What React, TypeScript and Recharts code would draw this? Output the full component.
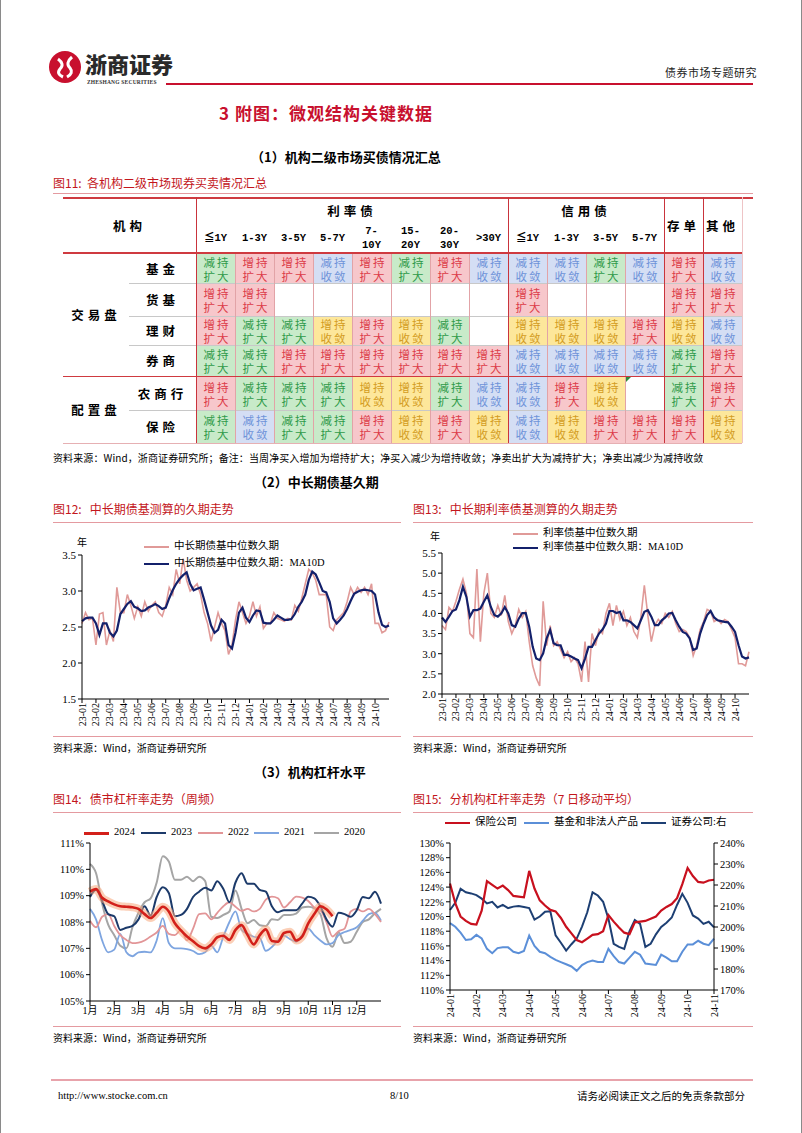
import React from "react";
import { LineChart, Line, XAxis, YAxis } from "recharts";

const SERIF = "'Liberation Serif', 'Noto Sans CJK SC', serif";
const CJK = "'Noto Sans CJK SC', 'Liberation Serif', sans-serif";
const RED_T = "#c3161c";
const RULE = "#e49aa0";

// ---------- 图11 table ----------
const rateTenors = ["≦1Y", "1-3Y", "3-5Y", "5-7Y", "7-\n10Y", "15-\n20Y", "20-\n30Y", ">30Y"];
const creditTenors = ["≦1Y", "1-3Y", "3-5Y", "5-7Y"];
const rowLabels = ["基金", "货基", "理财", "券商", "农商行", "保险"];
const groupLabels = ["交易盘", "配置盘"];
// A 增持扩大, B 减持扩大, C 减持收敛, D 增持收敛
const signals = [
  ["B", "A", "A", "C", "A", "B", "A", "C", "C", "C", "B", "C", "A", "C"],
  ["A", "A", "", "", "", "", "", "", "A", "", "", "", "A", "A"],
  ["A", "B", "B", "D", "A", "D", "B", "", "D", "D", "D", "A", "D", "C"],
  ["B", "B", "A", "A", "A", "A", "A", "A", "C", "C", "C", "C", "B", "A"],
  ["A", "B", "B", "B", "D", "D", "B", "C", "C", "A", "D", "", "B", "A"],
  ["B", "C", "B", "B", "A", "D", "A", "D", "C", "D", "A", "A", "A", "D"],
];

// ---------- 图12 / 图13 (4 obs per month, 23-01 .. 24-10) ----------
const durMonths = ["23-01", "23-02", "23-03", "23-04", "23-05", "23-06", "23-07", "23-08", "23-09", "23-10", "23-11", "23-12",
  "24-01", "24-02", "24-03", "24-04", "24-05", "24-06", "24-07", "24-08", "24-09", "24-10"];
const fundDurRaw = [2.55, 2.70, 2.60, 2.62, 2.25, 2.68, 2.70, 2.25, 2.45, 2.30,
  3.05, 2.70, 2.70, 2.95, 2.80, 2.62, 2.78, 2.65, 2.85, 2.72,
  2.80, 2.85, 2.70, 2.65, 2.80, 3.05, 2.95, 3.30, 3.10, 3.45,
  3.15, 3.00, 3.05, 3.10, 2.95, 2.70, 2.55, 2.30, 2.50, 2.70,
  2.55, 2.45, 2.12, 2.25, 2.60, 2.85, 2.70, 2.55, 2.65, 2.85,
  2.65, 2.78, 2.48, 2.55, 2.55, 2.70, 2.62, 2.60, 2.58, 2.62,
  2.60, 2.80, 2.72, 2.90, 3.10, 3.30, 3.25, 3.15, 2.95, 2.95,
  2.95, 2.50, 2.45, 2.60, 2.65, 2.70, 2.85, 3.05, 2.95, 3.05,
  2.98, 3.05, 2.95, 3.10, 2.55, 2.55, 2.42, 2.45, 2.57];
const fundDurMA = [2.58, 2.62, 2.63, 2.63, 2.55, 2.39, 2.55, 2.55, 2.42, 2.37,
  2.45, 2.68, 2.75, 2.82, 2.86, 2.78, 2.76, 2.72, 2.73, 2.77,
  2.79, 2.82, 2.79, 2.75, 2.77, 2.90, 3.01, 3.10, 3.17, 3.22,
  3.26, 3.10, 3.01, 3.03, 3.05, 2.88, 2.70, 2.52, 2.42, 2.46,
  2.60, 2.55, 2.25, 2.20, 2.42, 2.70, 2.77, 2.63, 2.57, 2.66,
  2.73, 2.72, 2.56, 2.55, 2.55, 2.60, 2.66, 2.63, 2.60, 2.60,
  2.61, 2.68, 2.78, 2.85, 2.95, 3.15, 3.27, 3.23, 3.12, 3.00,
  2.98, 2.85, 2.62, 2.55, 2.60, 2.66, 2.75, 2.86, 2.96, 2.99,
  3.01, 3.02, 3.01, 3.00, 2.95, 2.70, 2.53, 2.50, 2.52];
const rateDurRaw = [3.7, 3.6, 4.15, 4.05, 4.3, 4.6, 4.85, 4.5, 3.5, 3.4,
  5.1, 3.3, 4.5, 5.0, 4.0, 3.9, 4.2, 3.95, 4.45, 3.8,
  3.5, 3.7, 4.1, 3.9, 4.05, 3.3, 2.7, 2.4, 2.2, 4.3,
  3.2, 3.7, 3.2, 3.3, 3.1, 2.9, 3.05, 2.8, 2.9, 2.75,
  2.3, 3.3, 2.3, 3.5, 3.2, 3.6, 3.5, 4.0, 4.25, 3.7,
  4.2, 3.85, 4.05, 3.7, 3.9, 3.55, 3.4, 3.9, 4.7, 3.95,
  3.3, 3.7, 3.85, 3.75, 4.0, 3.9, 4.05, 3.75, 3.55, 3.6,
  3.55, 3.4, 2.95, 3.2, 3.6, 3.8, 4.1, 4.05, 3.8, 3.85,
  3.75, 3.85, 3.8, 3.6, 3.4, 2.75, 2.75, 2.7, 3.05];
const rateDurMA = [3.90, 3.79, 3.92, 4.06, 4.10, 4.33, 4.66, 4.41, 3.92, 4.08,
  4.08, 4.12, 4.29, 4.45, 4.16, 3.96, 3.92, 4.00, 4.16, 4.00,
  3.71, 3.67, 3.87, 4.01, 4.01, 3.67, 3.17, 2.88, 2.84, 3.01,
  3.38, 3.59, 3.26, 3.21, 3.21, 2.97, 2.97, 2.93, 2.88, 2.84,
  2.64, 2.88, 3.17, 3.17, 3.34, 3.50, 3.60, 3.75, 4.06, 4.06,
  4.01, 4.04, 3.83, 3.83, 3.79, 3.71, 3.63, 3.83, 4.04, 4.08,
  3.92, 3.71, 3.71, 3.83, 3.90, 4.00, 4.01, 3.83, 3.67, 3.54,
  3.50, 3.38, 3.09, 3.13, 3.50, 3.75, 3.96, 4.06, 3.90, 3.83,
  3.81, 3.79, 3.78, 3.67, 3.54, 3.21, 2.93, 2.88, 2.91];

// ---------- 图14 (weekly-ish, 4 obs per month) ----------
const calMonths = ["1月", "2月", "3月", "4月", "5月", "6月", "7月", "8月", "9月", "10月", "11月", "12月"];
const lev2024 = [109.15, 109.25, 108.92, 108.78, 108.67, 108.6, 108.58, 108.56, 108.5, 108.3,
  108.15, 108.35, 108.58, 108.4, 107.95, 107.68, 107.45, 107.27, 107.08, 107.0,
  107.15, 107.42, 107.48, 107.32, 107.7, 107.88, 107.5, 107.15, 107.5, 107.72,
  107.28, 107.25, 107.58, 107.63, 107.3, 107.45, 107.95, 108.3, 108.6, 108.48, 108.22];
const lev2023 = [108.95, 109.22, 108.8, 108.3, 108.22, 107.7, 107.78, 107.85, 108.1, 108.6,
  108.25, 108.95, 109.32, 109.1, 108.22, 108.27, 108.5, 108.95, 109.15, 109.3,
  109.2, 109.55, 109.25, 108.75, 109.5, 109.85, 109.45, 109.45, 109.22, 109.15,
  108.6, 108.37, 108.45, 108.45, 108.45, 108.7, 108.96, 108.9, 108.6, 108.1,
  107.82, 108.35, 108.3, 108.2, 108.45, 108.95, 108.9, 109.15, 108.7];
const lev2022 = [108.05, 107.8, 108.2, 108.3, 107.85, 107.5, 107.32, 107.2, 107.22, 107.3,
  107.45, 107.6, 107.85, 107.55, 107.5, 107.7, 107.3, 107.75, 108.3, 108.33,
  108.1, 108.35, 108.6, 108.75, 108.58, 108.42, 108.5, 108.4, 108.5, 108.85,
  108.96, 108.9, 108.55, 108.75, 108.96, 108.93, 108.8, 108.55, 108.45, 108.0,
  107.45, 107.65, 107.75, 108.4, 108.5, 108.4, 108.5, 108.3, 108.0];
const lev2021 = [108.5, 108.1, 107.3, 106.85, 106.95, 107.55, 106.85, 106.7, 106.85, 106.87,
  106.85, 107.3, 108.15, 107.2, 107.0, 107.0, 106.97, 106.9, 106.78, 106.85,
  107.1, 106.85, 107.45, 108.0, 108.4, 107.7, 107.55, 107.44, 107.4, 106.9,
  107.05, 107.3, 107.48, 107.35, 107.25, 107.5, 107.75, 107.5, 107.3, 107.15,
  107.2, 107.5, 107.62, 107.7, 107.8, 108.05, 108.3, 108.35, 108.05];
const lev2020 = [110.2, 109.85, 108.7, 107.9, 107.5, 107.1, 107.0, 107.8, 108.35, 108.75,
  108.9, 109.5, 110.5, 110.3, 109.6, 109.6, 109.72, 109.55, 109.72, 109.55,
  108.2, 108.15, 108.27, 108.4, 109.2, 108.5, 107.95, 108.08, 107.88, 107.85,
  108.1, 108.08, 108.27, 108.27, 108.32, 108.55, 108.58, 108.52, 108.3, 107.4,
  107.06, 107.6, 107.2, 107.25, 107.63, 108.0, 108.1, 108.33, 108.5];

// ---------- 图15 (5 obs per month, 24-01 .. 24-11) ----------
const levMonths = ["24-01", "24-02", "24-03", "24-04", "24-05", "24-06", "24-07", "24-08", "24-09", "24-10", "24-11"];
const insurer = [124.5, 121.8, 120.0, 119.4, 119.0, 118.9, 120.8, 124.8, 124.3, 123.8,
  124.2, 123.6, 122.8, 122.7, 122.6, 126.2, 123.8, 122.2, 121.5, 120.9,
  120.7, 119.8, 118.6, 117.7, 116.8, 116.5, 117.0, 117.5, 117.6, 118.0,
  120.2, 119.3, 118.5, 117.8, 117.6, 119.2, 119.3, 119.4, 119.7, 120.0,
  120.8, 121.3, 121.7, 122.5, 124.4, 126.6, 125.5, 124.7, 124.6, 124.9, 125.0];
const fundsProd = [119.1, 118.6, 117.8, 116.8, 116.9, 117.5, 117.0, 115.6, 115.0, 115.7,
  115.8, 115.8, 115.2, 115.0, 115.3, 117.4, 116.0, 115.2, 115.0, 114.5,
  114.1, 113.8, 113.5, 113.2, 112.6, 113.4, 113.8, 114.0, 113.8, 113.8,
  115.6, 114.6, 113.8, 113.6, 114.4, 115.2, 114.8, 113.6, 113.5, 113.4,
  114.8, 114.4, 113.9, 113.9, 115.2, 116.2, 116.2, 116.7, 116.3, 116.1, 117.0];
const brokers = [208.1, 211.5, 218.2, 216.5, 216.0, 215.2, 213.5, 211.2, 212.0, 209.3,
  210.5, 209.0, 209.7, 210.0, 209.5, 209.0, 203.5, 205.0, 207.3, 207.5,
  196.0, 192.5, 188.8, 191.8, 194.5, 200.2, 207.0, 216.5, 215.0, 212.0,
  204.0, 192.0, 190.5, 189.6, 198.0, 203.3, 201.5, 190.5, 192.0, 196.5,
  200.0, 202.0, 204.5, 210.5, 215.8, 211.5, 205.5, 204.0, 201.5, 202.5, 199.8];

const fundRows = fundDurRaw.map((v, i) => ({ t: i / 4, raw: v, ma: fundDurMA[i] }));
const rateRows = rateDurRaw.map((v, i) => ({ t: i / 4, raw: v, ma: rateDurMA[i] }));
const levRows = lev2023.map((v, i) => ({
  t: i / 4, y2024: lev2024[i], y2023: v, y2022: lev2022[i], y2021: lev2021[i], y2020: lev2020[i],
}));
const instRows = insurer.map((v, i) => ({ t: i / 5, ins: v, fund: fundsProd[i], broker: brokers[i] }));

const SIG: Record<string, { a: string; b: string; bg: string; fg: string }> = {
  A: { a: "增持", b: "扩大", bg: "#f7c7cb", fg: "#dc3b48" },
  B: { a: "减持", b: "扩大", bg: "#c8eac9", fg: "#2f9a4a" },
  C: { a: "减持", b: "收敛", bg: "#d4def4", fg: "#6e93d9" },
  D: { a: "增持", b: "收敛", bg: "#fde79b", fg: "#d39c22" },
};

const abs = (l: number, t: number, extra: React.CSSProperties = {}): React.CSSProperties => ({
  position: "absolute", left: l, top: t, ...extra,
});

function Txt({ l, t, size = 11, children, style = {} }: any) {
  return (
    <div style={{ ...abs(l, t), fontSize: size, lineHeight: 1.2, whiteSpace: "nowrap", fontFamily: CJK, ...style }}>
      {children}
    </div>
  );
}

function HLine({ l, t, w, h = 1, c = RULE }: any) {
  return <div style={{ ...abs(l, t), width: w, height: h, background: c }} />;
}
function VLine({ l, t, h, w = 1, c = "#c9343c" }: any) {
  return <div style={{ ...abs(l, t), width: w, height: h, background: c }} />;
}

function RotTick(props: any) {
  const { x, y, payload, labels } = props;
  const yy = y - 2;
  return (
    <text x={x} y={yy} transform={`rotate(-90 ${x} ${yy})`} textAnchor="end" dominantBaseline="central"
      fontSize={10} fontFamily={SERIF} fill="#000">
      {labels[payload.value]}
    </text>
  );
}

function Table11() {
  const L = 62, T = 197, X0 = 195, CW = 39;
  const rowH = [30, 33, 29, 31, 34, 33];
  const rowTop: number[] = [];
  let acc = 253;
  rowH.forEach((h) => { rowTop.push(acc); acc += h; });
  const bottom = acc;
  const hdr = (s: string, l: number, w: number, t: number, h: number) => (
    <div key={s + l} style={{ ...abs(l, t), width: w, height: h, display: "flex", alignItems: "center", justifyContent: "center",
      fontFamily: CJK, fontWeight: 700, fontSize: 12.5, letterSpacing: 4, textAlign: "center" }}>{s}</div>
  );
  const tenors = [...rateTenors, ...creditTenors];
  return (
    <>
      <HLine l={L} t={T} w={690} h={1.5} c="#cf3a40" />
      {hdr("机构", L, X0 - L, T, 56)}
      {hdr("利率债", X0, CW * 8, T + 2, 22)}
      {hdr("信用债", X0 + CW * 8, CW * 4, T + 2, 22)}
      {hdr("存单", X0 + CW * 12, CW, T, 56)}
      {hdr("其他", X0 + CW * 13, CW, T, 56)}
      {tenors.map((s, i) => (
        <div key={"tn" + i} style={{ ...abs(X0 + i * CW, 222), width: CW, height: 31, display: "flex", alignItems: "center",
          justifyContent: "center", whiteSpace: "pre", textAlign: "center", fontFamily: "'Liberation Mono', 'Noto Sans CJK SC', monospace",
          fontWeight: 700, fontSize: 10.5, lineHeight: "14px" }}>{s}</div>
      ))}
      {signals.map((row, r) => row.map((code, c) => {
        const s = SIG[code];
        if (!s) return null;
        return (
          <div key={`c${r}-${c}`} style={{ ...abs(X0 + c * CW + 1, rowTop[r] + 1), width: CW - 1, height: rowH[r] - 1, background: s.bg,
            color: s.fg, fontFamily: CJK, fontSize: 11.5, lineHeight: "14px", letterSpacing: 2, display: "flex", flexDirection: "column",
            alignItems: "center", justifyContent: "center", paddingLeft: 2, boxSizing: "border-box" }}>
            <span>{s.a}</span><span>{s.b}</span>
          </div>
        );
      }))}
      <div style={{ ...abs(X0 + 11 * CW + 1, rowTop[4] + 1), width: 0, height: 0, borderTop: "5px solid #2c8c3c", borderRight: "5px solid transparent" }} />
      {rowLabels.map((s, r) => (
        <div key={"rl" + r} style={{ ...abs(128, rowTop[r]), width: 67, height: rowH[r], display: "flex", alignItems: "center",
          justifyContent: "center", fontFamily: CJK, fontWeight: 700, fontSize: 12.5, letterSpacing: 4 }}>{s}</div>
      ))}
      {groupLabels.map((s, g) => {
        const t0 = g === 0 ? rowTop[0] : rowTop[4];
        const t1 = g === 0 ? rowTop[4] : bottom;
        return (
          <div key={"gl" + g} style={{ ...abs(L, t0), width: 66, height: t1 - t0, display: "flex", alignItems: "center",
            justifyContent: "center", fontFamily: CJK, fontWeight: 700, fontSize: 12.5, letterSpacing: 4 }}>{s}</div>
        );
      })}
      {/* row separators */}
      {rowTop.slice(1).map((t, r) => (r === 3 ? null :
        <HLine key={"rs" + r} l={128} t={t} w={741 - 128} h={1} c="#c8c8c8" />
      ))}
      {/* vertical cell lines */}
      {Array.from({ length: 15 }).map((_, i) => {
        const strong = i === 0 || i === 8 || i === 12 || i === 13;
        return i === 14
          ? <VLine key={"vl" + i} l={X0 + i * CW} t={T} h={bottom - T} c="#eec4c6" />
          : <VLine key={"vl" + i} l={X0 + i * CW} t={strong ? T : 253} h={bottom - (strong ? T : 253)} c={strong ? "#c9343c" : "#e2a3a7"} />;
      })}
      <HLine l={L} t={252} w={741 - L} h={1.5} c="#cf3a40" />
      <HLine l={L} t={rowTop[4] - 0.5} w={741 - L} h={1.5} c="#cf3a40" />
      <HLine l={L} t={bottom} w={741 - L} h={1} c="#e6b0b3" />
    </>
  );
}

function LegendItem({ l, t, color, w = 2, text, lw = 25 }: any) {
  return (
    <>
      <div style={{ ...abs(l, t - w / 2), width: lw, height: w, background: color }} />
      <Txt l={l + lw + 5} t={t - 7} size={10.5} style={{ fontFamily: SERIF }}>{text}</Txt>
    </>
  );
}

function DurChart({ rows, domain, ticks, left, top, height, bottomPad }: any) {
  return (
    <div style={abs(left, top)}>
      <LineChart width={360} height={height} data={rows} margin={{ top: 25, right: 12, bottom: bottomPad, left: 6 }}>
        <XAxis dataKey="t" type="number" domain={[0, 22]} ticks={durMonths.map((_, i) => i)} interval={0}
          stroke="#000" tickSize={4} height={36} tick={(p: any) => <RotTick {...p} labels={durMonths} />} />
        <YAxis type="number" domain={domain} ticks={ticks} interval={0} width={35} stroke="#000" tickSize={4}
          tick={{ fontSize: 11, fontFamily: SERIF, fill: "#000" }} tickFormatter={(v: number) => v.toFixed(1)} />
        <Line dataKey="raw" type="linear" stroke="#e09a98" strokeWidth={1.6} dot={false} isAnimationActive={false} />
        <Line dataKey="ma" type="linear" stroke="#13206b" strokeWidth={2.2} dot={false} isAnimationActive={false} />
      </LineChart>
    </div>
  );
}

export default function App() {
  return (
    <div style={{ position: "absolute", left: 0, top: 0, width: 802, height: 1133, background: "#fff", overflow: "hidden",
      borderLeft: "1px solid #8a8a8a", borderRight: "1px solid #8a8a8a", boxSizing: "border-box", fontFamily: CJK, color: "#000" }}>
      {/* header */}
      <svg style={abs(47, 50)} width={34} height={34} viewBox="0 0 34 34">
        <circle cx={17} cy={17} r={16} fill="#c8102e" />
        <path d="M10 9 Q17 14 12 19 Q8 24 15 27" stroke="#fff" strokeWidth={3} fill="none" />
        <path d="M24 7 Q17 13 22 18 Q26 23 19 27" stroke="#fff" strokeWidth={3} fill="none" />
      </svg>
      <Txt l={84} t={50} size={22} style={{ fontWeight: 900, color: "#2a2a2a", letterSpacing: 0 }}>浙商证券</Txt>
      <Txt l={86} t={79} size={5.5} style={{ fontFamily: SERIF, fontWeight: 700, color: "#333", letterSpacing: 0.2 }}>ZHESHANG SECURITIES</Txt>
      <HLine l={165} t={83} w={587} h={2} c="#c8102e" />
      <Txt l={664} t={66} size={11} style={{ color: "#222", letterSpacing: 0.5 }}>债券市场专题研究</Txt>
      <Txt l={218} t={103} size={17} style={{ fontWeight: 700, color: "#c8102e", letterSpacing: 1 }}>3 附图：微观结构关键数据</Txt>
      <Txt l={250} t={149} size={13} style={{ fontWeight: 700 }}>（1）机构二级市场买债情况汇总</Txt>

      <Txt l={52} t={176} size={12} style={{ color: RED_T }}>图11:&nbsp;&nbsp;各机构二级市场现券买卖情况汇总</Txt>
      <HLine l={52} t={193} w={700} />
      <Table11 />
      <Txt l={52} t={452} size={10} style={{ letterSpacing: 0.1 }}>
        资料来源：Wind，浙商证券研究所；备注：当周净买入增加为增持扩大；净买入减少为增持收敛；净卖出扩大为减持扩大；净卖出减少为减持收敛
      </Txt>

      <Txt l={253} t={474} size={13} style={{ fontWeight: 700 }}>（2）中长期债基久期</Txt>

      <Txt l={52} t={502} size={12} style={{ color: RED_T }}>图12:&nbsp;&nbsp;&nbsp;中长期债基测算的久期走势</Txt>
      <HLine l={52} t={522} w={348} />
      <Txt l={412} t={502} size={12} style={{ color: RED_T }}>图13:&nbsp;&nbsp;&nbsp;中长期利率债基测算的久期走势</Txt>
      <HLine l={412} t={522} w={340} />

      <DurChart rows={fundRows} domain={[1.5, 3.5]} ticks={[1.5, 2.0, 2.5, 3.0, 3.5]} left={40} top={530} height={210} bottomPad={5} />
      <Txt l={76} t={536} size={10}>年</Txt>
      <LegendItem l={143} t={547} color="#e09a98" w={2} text="中长期债基中位数久期" />
      <LegendItem l={143} t={564} color="#13206b" w={2.5} text="中长期债基中位数久期：MA10D" />

      <DurChart rows={rateRows} domain={[2.0, 5.5]} ticks={[2.0, 2.5, 3.0, 3.5, 4.0, 4.5, 5.0, 5.5]} left={400} top={528} height={210} bottomPad={8} />
      <Txt l={429} t={530} size={10}>年</Txt>
      <LegendItem l={512} t={534} color="#e09a98" w={2} text="利率债基中位数久期" />
      <LegendItem l={512} t={548} color="#13206b" w={2.5} text="利率债基中位数久期：MA10D" />

      <HLine l={52} t={736} w={348} />
      <HLine l={412} t={736} w={340} />
      <Txt l={52} t={742} size={10}>资料来源：Wind，浙商证券研究所</Txt>
      <Txt l={412} t={742} size={10}>资料来源：Wind，浙商证券研究所</Txt>

      <Txt l={253} t={764} size={13} style={{ fontWeight: 700 }}>（3）机构杠杆水平</Txt>

      <Txt l={52} t={792} size={12} style={{ color: RED_T }}>图14:&nbsp;&nbsp;&nbsp;债市杠杆率走势（周频）</Txt>
      <HLine l={52} t={812} w={348} />
      <Txt l={412} t={792} size={12} style={{ color: RED_T }}>图15:&nbsp;&nbsp;&nbsp;分机构杠杆率走势（7 日移动平均）</Txt>
      <HLine l={412} t={812} w={340} />

      {/* 图14 */}
      <div style={abs(40, 818)}>
        <LineChart width={350} height={205} data={levRows} margin={{ top: 25, right: 10, bottom: 2, left: 6 }}>
          <XAxis dataKey="t" type="number" domain={[0, 12]} ticks={calMonths.map((_, i) => i)} interval={0}
            stroke="#000" tickSize={4} height={20} tickFormatter={(v: number) => calMonths[v]}
            tick={{ fontSize: 10, fontFamily: SERIF, fill: "#000" }} />
          <YAxis type="number" domain={[105, 111]} ticks={[105, 106, 107, 108, 109, 110, 111]} interval={0} width={43} stroke="#000"
            tickSize={4} tick={{ fontSize: 10.5, fontFamily: SERIF, fill: "#000" }} tickFormatter={(v: number) => `${v}%`} />
          <Line dataKey="y2020" type="monotone" stroke="#a5a5a5" strokeWidth={2} dot={false} isAnimationActive={false} />
          <Line dataKey="y2021" type="monotone" stroke="#7ea5e0" strokeWidth={1.8} dot={false} isAnimationActive={false} />
          <Line dataKey="y2022" type="monotone" stroke="#e29597" strokeWidth={1.8} dot={false} isAnimationActive={false} />
          <Line dataKey="y2023" type="monotone" stroke="#1c3a6a" strokeWidth={2} dot={false} isAnimationActive={false} />
          <Line dataKey="y2024" type="monotone" stroke="#f8a77c" strokeOpacity={0.55} strokeWidth={8} dot={false}
            isAnimationActive={false} connectNulls={false} />
          <Line dataKey="y2024" type="monotone" stroke="#d3201a" strokeWidth={2.6} dot={false} isAnimationActive={false} />
        </LineChart>
      </div>
      <LegendItem l={83} t={833} color="#d3201a" w={3} text="2024" />
      <LegendItem l={140} t={833} color="#1c3a6a" w={2.5} text="2023" />
      <LegendItem l={197} t={833} color="#e29597" w={2} text="2022" />
      <LegendItem l={253} t={833} color="#7ea5e0" w={2} text="2021" />
      <LegendItem l={313} t={833} color="#a5a5a5" w={2.5} text="2020" />

      {/* 图15 */}
      <div style={abs(400, 818)}>
        <LineChart width={360} height={205} data={instRows} margin={{ top: 25, right: 4, bottom: 2, left: 6 }}>
          <XAxis dataKey="t" type="number" domain={[0, 10]} ticks={levMonths.map((_, i) => i)} interval={0}
            stroke="#000" tickSize={4} height={31} tick={(p: any) => <RotTick {...p} labels={levMonths} />} />
          <YAxis yAxisId="l" type="number" domain={[110, 130]} ticks={[110, 112, 114, 116, 118, 120, 122, 124, 126, 128, 130]}
            interval={0} width={43} stroke="#000" tickSize={4} tick={{ fontSize: 10.5, fontFamily: SERIF, fill: "#000" }}
            tickFormatter={(v: number) => `${v}%`} />
          <YAxis yAxisId="r" orientation="right" type="number" domain={[170, 240]} ticks={[170, 180, 190, 200, 210, 220, 230, 240]}
            interval={0} width={43} stroke="#000" tickSize={4} tick={{ fontSize: 10.5, fontFamily: SERIF, fill: "#000" }}
            tickFormatter={(v: number) => `${v}%`} />
          <Line yAxisId="l" dataKey="fund" type="linear" stroke="#5b8fd8" strokeWidth={2} dot={false} isAnimationActive={false} />
          <Line yAxisId="r" dataKey="broker" type="linear" stroke="#1d3f73" strokeWidth={2} dot={false} isAnimationActive={false} />
          <Line yAxisId="l" dataKey="ins" type="linear" stroke="#c8101e" strokeWidth={2.2} dot={false} isAnimationActive={false} />
        </LineChart>
      </div>
      <LegendItem l={444} t={823} color="#c8101e" w={2.5} text="保险公司" />
      <LegendItem l={523} t={823} color="#5b8fd8" w={2.5} text="基金和非法人产品" />
      <LegendItem l={640} t={823} color="#1d3f73" w={2.5} text="证券公司:右" />

      <HLine l={52} t={1026} w={348} />
      <HLine l={412} t={1026} w={340} />
      <Txt l={52} t={1032} size={10}>资料来源：Wind，浙商证券研究所</Txt>
      <Txt l={412} t={1032} size={10}>资料来源：Wind，浙商证券研究所</Txt>

      {/* footer */}
      <HLine l={50} t={1079} w={702} h={2} c="#e8a3ab" />
      <Txt l={57} t={1090} size={10.5} style={{ fontFamily: SERIF }}>http://www.stocke.com.cn</Txt>
      <Txt l={389} t={1090} size={10.5} style={{ fontFamily: SERIF }}>8/10</Txt>
      <Txt l={576} t={1090} size={10.5}>请务必阅读正文之后的免责条款部分</Txt>
    </div>
  );
}
